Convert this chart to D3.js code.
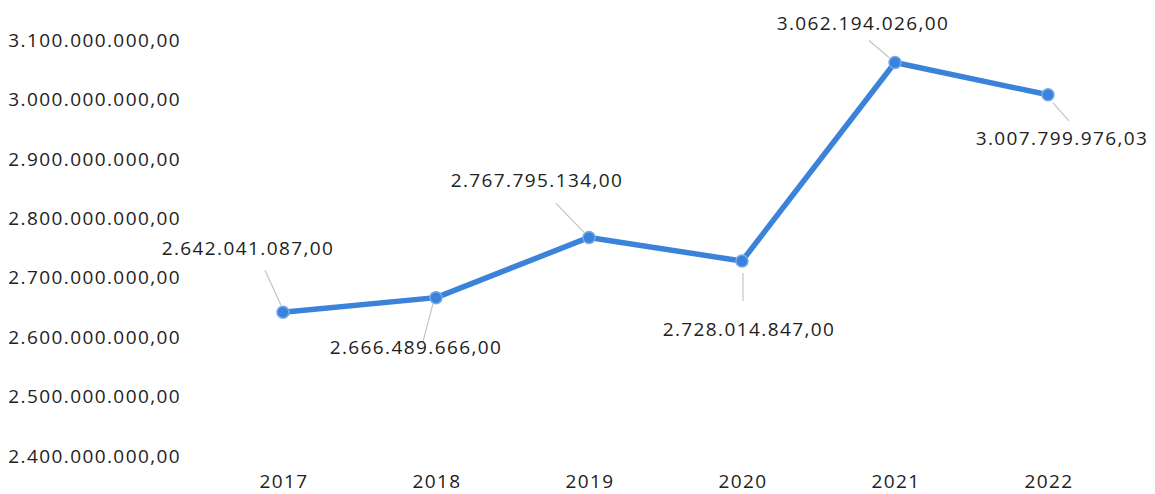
<!DOCTYPE html>
<html>
<head>
<meta charset="utf-8">
<script src="https://cdn.jsdelivr.net/npm/d3@7"></script>
<style>
  html, body { margin: 0; padding: 0; background: #fff; }
  text { font-family: "Open Sans", sans-serif; fill: #222; font-size: 19px; letter-spacing: 1.4px; }
</style>
</head>
<body>
<svg id="chart" width="1155" height="494"></svg>
<script>
// data
var years = ["2017", "2018", "2019", "2020", "2021", "2022"];
var values = [2642041087.00, 2666489666.00, 2767795134.00, 2728014847.00, 3062194026.00, 3007799976.03];
var yTicks = [2400000000, 2500000000, 2600000000, 2700000000, 2800000000, 2900000000, 3000000000, 3100000000];

// label placement relative to each point (layout only)
var labelDx = [-35, -20, -52, 7, -32, 14];
var labelDy = [-64, 50, -57, 68, -39, 44];
var leadA = [[-18, -42], [-13, 44], [-33, -34], [1, 40], [-26, -22], [21, 26]];
var leadB = [[-2, -7], [-3, 6], [-5, -5], [1, 12], [-6, -5], [5, 8]];

var svg = d3.select("#chart");

var x = d3.scalePoint().domain(years).range([206.5, 1124.5]).padding(0.5);
var y = d3.scaleLinear().domain([2400000000, 3100000000]).range([456, 40]);

function fmt(v) {
  var s = v.toFixed(2).split(".");
  var intPart = s[0].replace(/\B(?=(\d{3})+(?!\d))/g, ".");
  return intPart + "," + s[1];
}

// y axis labels
svg.append("g")
  .selectAll("text")
  .data(yTicks)
  .join("text")
    .attr("x", 181)
    .attr("y", d => y(d))
    .attr("dy", "0.35em")
    .attr("text-anchor", "end")
    .text(d => fmt(d));

// x axis labels
svg.append("g")
  .selectAll("text")
  .data(years)
  .join("text")
    .attr("x", d => x(d) + 1)
    .attr("y", 488)
    .attr("text-anchor", "middle")
    .text(d => d);

var pts = years.map((yr, i) => ({year: yr, value: values[i], i: i}));

// leader lines
svg.append("g")
  .selectAll("line")
  .data(pts)
  .join("line")
    .attr("x1", d => x(d.year) + leadA[d.i][0])
    .attr("y1", d => y(d.value) + leadA[d.i][1])
    .attr("x2", d => x(d.year) + leadB[d.i][0])
    .attr("y2", d => y(d.value) + leadB[d.i][1])
    .attr("stroke", "#c4c4c4")
    .attr("stroke-width", 1.2);

// line
var line = d3.line().x(d => x(d.year)).y(d => y(d.value));
svg.append("path")
  .datum(pts)
  .attr("d", line)
  .attr("fill", "none")
  .attr("stroke", "#3b83da")
  .attr("stroke-width", 5.5)
  .attr("stroke-linejoin", "round")
  .attr("stroke-linecap", "round");

// markers
svg.append("g")
  .selectAll("circle")
  .data(pts)
  .join("circle")
    .attr("cx", d => x(d.year))
    .attr("cy", d => y(d.value))
    .attr("r", 6)
    .attr("fill", "#3b83da")
    .attr("stroke", "#74aaec")
    .attr("stroke-width", 1.5);

// data labels
svg.append("g")
  .selectAll("text")
  .data(pts)
  .join("text")
    .attr("x", d => x(d.year) + labelDx[d.i])
    .attr("y", d => y(d.value) + labelDy[d.i])
    .attr("dy", "0.35em")
    .attr("text-anchor", "middle")
    .text(d => fmt(d.value));
</script>
</body>
</html>
